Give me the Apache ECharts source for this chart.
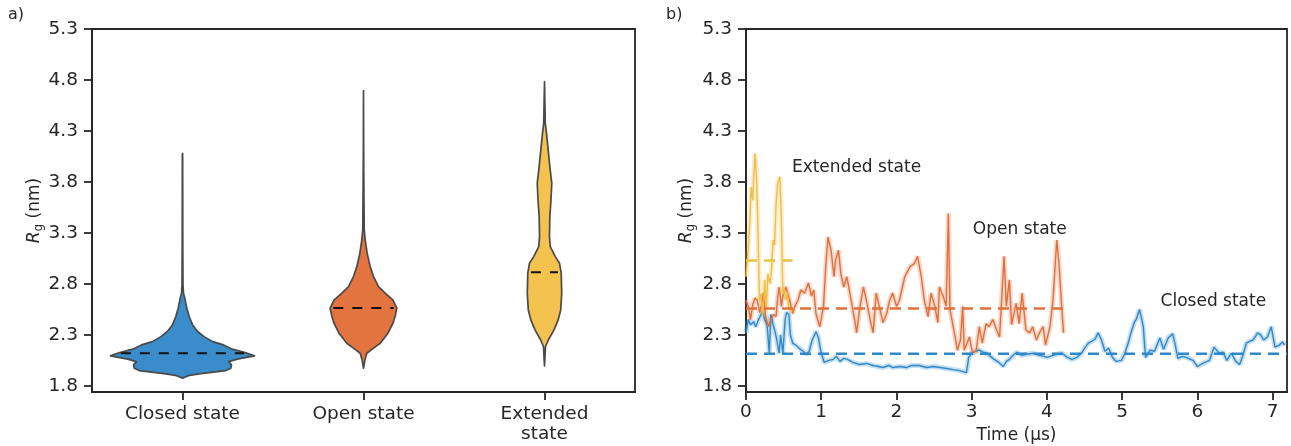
<!DOCTYPE html>
<html>
<head>
<meta charset="utf-8">
<script src="https://cdn.jsdelivr.net/npm/echarts@6/dist/echarts.min.js"></script>
<style>html,body{margin:0;padding:0;background:#fff}#c{width:1291px;height:446px}</style>
</head>
<body>
<div id="c"></div>
<script>
// ---------- DATA ----------
const categories = ['Closed state', 'Open state', 'Extended state'];
// violin profiles: [Rg (nm), relative half-width density]
const closedViolin = [[1.876,0],[1.90,0.08],[1.918,0.23],[1.95,0.6],[1.973,0.67],[2.006,0.68],[2.038,0.64],[2.062,0.76],[2.094,1.0],[2.127,0.87],[2.16,0.69],[2.202,0.57],[2.234,0.42],[2.283,0.30],[2.333,0.21],[2.398,0.14],[2.48,0.093],[2.562,0.06],[2.643,0.037],[2.71,0.014],[2.79,0.007],[3.2,0.004],[4.07,0.002],[4.08,0]];
const openViolin = [[1.973,0],[2.055,0.02],[2.12,0.046],[2.17,0.139],[2.218,0.232],[2.317,0.34],[2.415,0.41],[2.496,0.444],[2.562,0.463],[2.643,0.407],[2.709,0.30],[2.774,0.208],[2.872,0.139],[2.97,0.093],[3.10,0.051],[3.23,0.024],[3.33,0.01],[4.0,0.003],[4.695,0]];
const extendedViolin = [[1.996,0],[2.186,0.014],[2.25,0.053],[2.349,0.132],[2.447,0.19],[2.545,0.225],[2.709,0.239],[2.905,0.232],[3.003,0.208],[3.068,0.15],[3.166,0.08],[3.264,0.069],[3.46,0.074],[3.623,0.09],[3.787,0.101],[3.918,0.079],[4.114,0.051],[4.277,0.028],[4.375,0.011],[4.783,0]];
const violinMedians = [2.12, 2.565, 2.915];

const yTicks = [1.8, 2.3, 2.8, 3.3, 3.8, 4.3, 4.8, 5.3];
const timeTicks = [0, 1, 2, 3, 4, 5, 6, 7];

// time series [time (µs), Rg (nm)]
const closedSeries = [[0.00,2.32],[0.03,2.45],[0.06,2.40],[0.10,2.43],[0.13,2.38],[0.16,2.44],[0.20,2.50],[0.22,2.53],[0.25,2.45],[0.28,2.40],[0.31,2.12],[0.33,2.50],[0.36,2.40],[0.39,2.32],[0.41,2.25],[0.44,2.12],[0.46,2.30],[0.49,2.12],[0.52,2.45],[0.54,2.52],[0.57,2.50],[0.59,2.30],[0.62,2.22],[0.66,2.20],[0.72,2.16],[0.76,2.14],[0.80,2.11],[0.84,2.14],[0.88,2.25],[0.93,2.33],[0.96,2.28],[1.00,2.12],[1.04,2.03],[1.10,2.05],[1.16,2.06],[1.20,2.09],[1.25,2.04],[1.30,2.07],[1.35,2.06],[1.42,2.03],[1.51,2.01],[1.60,2.02],[1.69,2.00],[1.76,1.99],[1.82,1.98],[1.90,2.00],[1.95,1.98],[2.05,1.99],[2.13,1.98],[2.20,2.00],[2.30,2.00],[2.40,1.98],[2.49,1.99],[2.58,1.98],[2.67,1.97],[2.75,1.96],[2.84,1.95],[2.93,1.93],[2.96,2.08],[3.00,2.12],[3.05,2.14],[3.10,2.15],[3.15,2.13],[3.20,2.12],[3.28,2.07],[3.36,2.03],[3.42,1.99],[3.46,2.04],[3.50,2.06],[3.55,2.10],[3.60,2.13],[3.66,2.10],[3.73,2.11],[3.82,2.12],[3.90,2.10],[3.96,2.09],[4.00,2.08],[4.08,2.10],[4.13,2.11],[4.20,2.12],[4.27,2.08],[4.33,2.06],[4.40,2.08],[4.46,2.12],[4.50,2.17],[4.55,2.22],[4.60,2.24],[4.64,2.26],[4.68,2.32],[4.72,2.26],[4.77,2.14],[4.82,2.17],[4.87,2.08],[4.92,2.04],[4.99,2.05],[5.03,2.11],[5.08,2.22],[5.12,2.33],[5.16,2.42],[5.19,2.46],[5.23,2.55],[5.26,2.45],[5.28,2.38],[5.31,2.08],[5.37,2.15],[5.43,2.14],[5.50,2.27],[5.55,2.16],[5.61,2.27],[5.67,2.31],[5.70,2.22],[5.74,2.07],[5.80,2.09],[5.85,2.08],[5.94,2.05],[6.00,1.99],[6.07,2.02],[6.16,2.05],[6.22,2.18],[6.29,2.12],[6.34,2.13],[6.39,2.05],[6.45,2.12],[6.51,2.04],[6.56,2.01],[6.60,2.09],[6.65,2.22],[6.70,2.24],[6.74,2.25],[6.80,2.32],[6.84,2.30],[6.88,2.25],[6.93,2.28],[6.98,2.38],[7.03,2.18],[7.09,2.20],[7.13,2.23],[7.16,2.20]];
const openSeries = [[0.00,2.64],[0.03,2.58],[0.06,2.45],[0.09,2.60],[0.12,2.66],[0.15,2.64],[0.18,2.52],[0.21,2.60],[0.23,2.71],[0.26,2.48],[0.30,2.38],[0.33,2.45],[0.37,2.50],[0.40,2.48],[0.42,2.66],[0.44,2.77],[0.47,2.58],[0.49,2.68],[0.53,2.77],[0.58,2.64],[0.62,2.51],[0.65,2.58],[0.69,2.64],[0.73,2.74],[0.78,2.71],[0.83,2.81],[0.87,2.68],[0.90,2.74],[0.93,2.51],[0.98,2.38],[1.03,2.58],[1.06,2.97],[1.09,3.26],[1.13,3.13],[1.17,2.87],[1.19,3.03],[1.23,3.13],[1.26,2.90],[1.30,2.77],[1.34,2.87],[1.38,2.71],[1.45,2.42],[1.47,2.32],[1.51,2.55],[1.56,2.77],[1.60,2.64],[1.65,2.45],[1.69,2.32],[1.73,2.71],[1.78,2.55],[1.82,2.42],[1.87,2.51],[1.91,2.64],[1.95,2.71],[2.00,2.58],[2.04,2.64],[2.11,2.87],[2.18,2.97],[2.24,3.00],[2.28,3.07],[2.33,2.87],[2.37,2.64],[2.42,2.48],[2.46,2.71],[2.51,2.58],[2.55,2.42],[2.57,2.77],[2.62,2.68],[2.66,2.58],[2.69,3.49],[2.71,2.55],[2.77,2.32],[2.81,2.15],[2.85,2.25],[2.88,2.58],[2.90,2.15],[2.97,2.28],[3.01,2.12],[3.06,2.15],[3.10,2.38],[3.14,2.22],[3.19,2.41],[3.23,2.38],[3.28,2.45],[3.33,2.35],[3.37,2.28],[3.43,3.07],[3.46,2.58],[3.50,2.84],[3.53,2.40],[3.59,2.61],[3.63,2.41],[3.67,2.71],[3.72,2.35],[3.77,2.32],[3.81,2.38],[3.86,2.25],[3.90,2.32],[3.95,2.38],[3.98,2.20],[4.04,2.38],[4.08,2.64],[4.13,3.23],[4.16,3.00],[4.19,2.64],[4.22,2.32]];
const extendedSeries = [[0.00,2.87],[0.02,3.05],[0.05,3.40],[0.07,3.75],[0.09,3.62],[0.10,3.82],[0.12,4.08],[0.14,3.85],[0.16,3.30],[0.18,2.64],[0.20,2.70],[0.22,2.48],[0.25,2.84],[0.27,2.55],[0.29,2.90],[0.32,2.80],[0.34,2.95],[0.36,3.23],[0.38,3.18],[0.40,3.59],[0.42,3.78],[0.45,3.85],[0.47,3.45],[0.49,2.70],[0.51,2.75],[0.53,2.64],[0.55,2.72],[0.57,2.55],[0.59,2.58],[0.61,2.52]];

// mean lines: [value, end time]
const closedMean = [2.115, 7.19];
const openMean = [2.56, 4.21];
const extendedMean = [3.03, 0.62];

// annotations: [text, time, Rg]
const annotations = [['Extended state', 0.61, 3.94], ['Open state', 3.015, 3.33], ['Closed state', 5.51, 2.625]];

// ---------- STYLE ----------
const FONT = 'DejaVu Sans';
const INK = '#262626';
const COLORS = ['#3a8ccb', '#e3743f', '#f3c24f'];
const LINE_COLORS = ['#2f88c9', '#e0703c', '#f0bf45'];
const TICK_FS = 18.5;

const chart = echarts.init(document.getElementById('c'), null, {renderer: 'canvas'});
const violins = [closedViolin, openViolin, extendedViolin];

function densAt(prof, v) {
  for (let k = 0; k < prof.length - 1; k++) {
    const a = prof[k], b = prof[k + 1];
    if (v >= a[0] && v <= b[0]) return a[1] + (b[1] - a[1]) * (v - a[0]) / (b[0] - a[0]);
  }
  return 0;
}

function yAxisCfg(gi, gap) {
  return {
    gridIndex: gi, type: 'value', min: 1.74, max: 5.3,
    axisLine: {show: true, lineStyle: {color: INK, width: 1.8}},
    axisTick: {show: true, length: 8, customValues: yTicks, lineStyle: {color: INK, width: 1.8}},
    axisLabel: {customValues: yTicks, formatter: v => Number(v).toFixed(1), fontSize: TICK_FS, color: INK, margin: 14, fontFamily: FONT},
    splitLine: {show: false},
    name: '{i|R}{s|g}{n| (nm)}', nameLocation: 'middle', nameGap: gap, nameRotate: 90,
    nameTextStyle: {fontFamily: FONT, color: INK, rich: {
      i: {fontSize: 17, fontStyle: 'italic', fontFamily: FONT, color: INK},
      s: {fontSize: 12, fontFamily: FONT, color: INK, verticalAlign: 'bottom', padding: [8, 0, 0, 0]},
      n: {fontSize: 17, fontFamily: FONT, color: INK}
    }}
  };
}

function lineBand(data, c) {
  return {type: 'line', xAxisIndex: 1, yAxisIndex: 1, data: data, showSymbol: false, silent: true,
    lineStyle: {color: c, width: 5, opacity: 0.28}, z: 2};
}
function lineMain(data, c) {
  return {type: 'line', xAxisIndex: 1, yAxisIndex: 1, data: data, showSymbol: false, silent: true,
    lineStyle: {color: c, width: 1.4}, z: 3};
}
function meanLine(m, c) {
  return {type: 'line', xAxisIndex: 1, yAxisIndex: 1, data: [[0, m[0]], [m[1], m[0]]], showSymbol: false, silent: true,
    lineStyle: {color: c, width: 2.5, type: [11, 7]}, z: 4};
}

const option = {
  animation: false,
  backgroundColor: '#fff',
  textStyle: {fontFamily: FONT},
  grid: [
    {left: 92, top: 29, width: 543, height: 363, show: true, borderColor: INK, borderWidth: 1.8, backgroundColor: 'transparent', containLabel: false, outerBoundsMode: 'none'},
    {left: 746, top: 29, width: 541, height: 363, show: true, borderColor: INK, borderWidth: 1.8, backgroundColor: 'transparent', containLabel: false, outerBoundsMode: 'none'}
  ],
  xAxis: [
    {gridIndex: 0, type: 'category', data: categories,
      axisLine: {show: true, lineStyle: {color: INK, width: 1.8}},
      axisTick: {show: true, alignWithLabel: true, length: 8, lineStyle: {color: INK, width: 1.8}},
      axisLabel: {fontSize: TICK_FS, color: INK, margin: 12, fontFamily: FONT, lineHeight: 20, interval: 0,
        formatter: v => v === 'Extended state' ? 'Extended\nstate' : v},
      splitLine: {show: false}},
    {gridIndex: 1, type: 'value', min: 0, max: 7.19,
      axisLine: {show: true, lineStyle: {color: INK, width: 1.8}},
      axisTick: {show: true, length: 8, customValues: timeTicks, lineStyle: {color: INK, width: 1.8}},
      axisLabel: {customValues: timeTicks, fontSize: TICK_FS, color: INK, margin: 11, fontFamily: FONT},
      splitLine: {show: false},
      name: 'Time (µs)', nameLocation: 'middle', nameGap: 25,
      nameTextStyle: {fontSize: 17, color: INK, fontFamily: FONT}}
  ],
  yAxis: [yAxisCfg(0, 46), yAxisCfg(1, 49)],
  graphic: [
    {type: 'text', left: 8, top: 7, style: {text: 'a)', fontSize: 16, fill: INK, fontFamily: FONT}},
    {type: 'text', left: 666, top: 7, style: {text: 'b)', fontSize: 16, fill: INK, fontFamily: FONT}}
  ],
  series: [
    {type: 'custom', xAxisIndex: 0, yAxisIndex: 0, silent: true, z: 3,
      data: categories.map((c, i) => [i]),
      renderItem: function (params, api) {
        const i = api.value(0);
        const prof = violins[i];
        const band = api.size([1, 0])[0];
        const scale = band * 0.398;
        const right = [], left = [];
        prof.forEach(([v, d]) => {
          const p = api.coord([i, v]);
          right.push([p[0] + d * scale, p[1]]);
          left.push([p[0] - d * scale, p[1]]);
        });
        const pts = right.concat(left.reverse());
        const m = violinMedians[i];
        const dm = densAt(prof, m) * scale;
        const pm = api.coord([i, m]);
        return {type: 'group', children: [
          {type: 'polygon', shape: {points: pts}, style: {fill: COLORS[i], stroke: '#4a4a4a', lineWidth: 1.7, lineJoin: 'round'}},
          {type: 'line', shape: {x1: pm[0] - dm + 3, y1: pm[1], x2: pm[0] + dm - 3, y2: pm[1]}, style: {stroke: '#111', lineWidth: 2, lineDash: [10, 9]}}
        ]};
      }},
    lineBand(closedSeries, LINE_COLORS[0]), lineMain(closedSeries, LINE_COLORS[0]),
    lineBand(openSeries, LINE_COLORS[1]), lineMain(openSeries, LINE_COLORS[1]),
    lineBand(extendedSeries, LINE_COLORS[2]), lineMain(extendedSeries, LINE_COLORS[2]),
    meanLine(closedMean, LINE_COLORS[0]), meanLine(openMean, LINE_COLORS[1]), meanLine(extendedMean, LINE_COLORS[2]),
    {type: 'custom', xAxisIndex: 1, yAxisIndex: 1, silent: true, z: 5,
      data: annotations.map(a => [a[1], a[2]]),
      renderItem: function (params, api) {
        const p = api.coord([api.value(0), api.value(1)]);
        return {type: 'text', x: p[0], y: p[1], style: {text: annotations[params.dataIndex][0], fontSize: 17,
          fill: INK, fontFamily: FONT, verticalAlign: 'middle', align: 'left'}};
      }}
  ]
};
chart.setOption(option);
</script>
</body>
</html>
